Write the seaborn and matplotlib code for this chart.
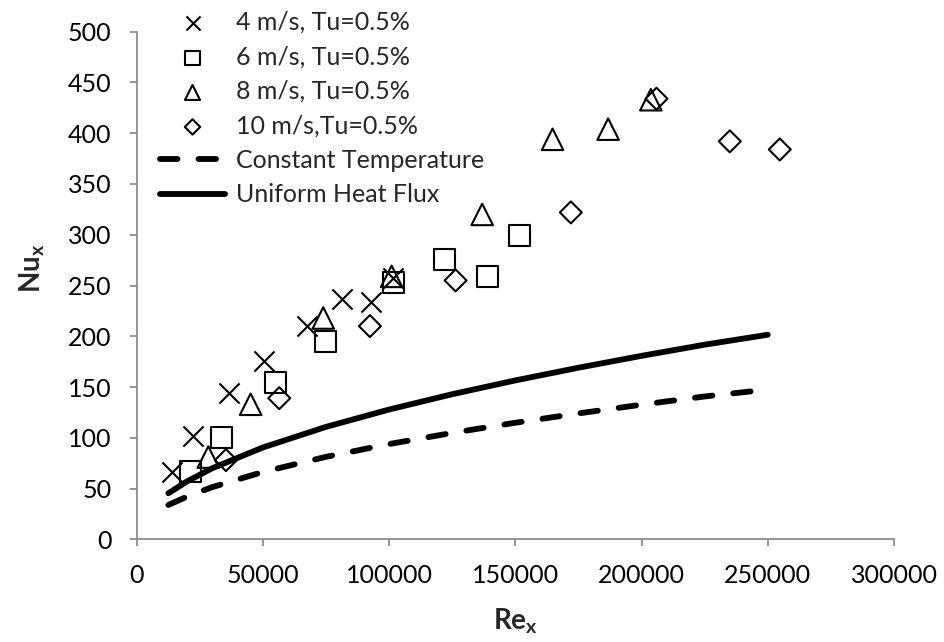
import matplotlib
matplotlib.use("Agg")
import matplotlib.pyplot as plt
import seaborn as sns
import pandas as pd

sns.set_theme(style="white")
plt.rcParams['font.family'] = ['Lato', 'DejaVu Sans']
plt.rcParams['mathtext.fontset'] = 'custom'
plt.rcParams['mathtext.bf'] = 'Lato:bold'
plt.rcParams['mathtext.rm'] = 'Lato'

# Experimental data
re_4 = [13935, 22490, 36750, 50480, 67380, 81480, 92720, 101670]
nu_4 = [66.6, 101.8, 143.8, 176, 210, 237, 234, 257]
re_6 = [21450, 33730, 55230, 75020, 101940, 122130, 139030, 151830]
nu_6 = [67, 100, 154, 195, 253, 276, 259, 299]
re_8 = [28430, 45200, 73960, 101030, 136900, 164770, 186790, 203700]
nu_8 = [81, 133, 218, 259, 320, 394, 404, 433]
re_10 = [35430, 56540, 92440, 126370, 172020, 205940, 234970, 254760]
nu_10 = [78, 139, 210, 255, 322, 434, 392, 384]

# Correlation curves
re_line = [12600, 20000, 30000, 50000, 75000, 100000, 125000, 150000, 175000, 200000, 225000, 250000]
nu_ct = [33.8, 42, 51.4, 66.3, 81.2, 93.8, 104.8, 114.8, 124, 132.6, 140.7, 147.5]
nu_uhf = [45.3, 57, 70, 90.4, 110.7, 127.8, 142.9, 156.5, 169, 180.7, 191.7, 201.5]

labels = ["4 m/s, Tu=0.5%", "6 m/s, Tu=0.5%", "8 m/s, Tu=0.5%", "10 m/s,Tu=0.5%"]
xticks = [0, 50000, 100000, 150000, 200000, 250000, 300000]
yticks = [0, 50, 100, 150, 200, 250, 300, 350, 400, 450, 500]

W, H = 944, 642
fig = plt.figure(figsize=(W / 100, H / 100), dpi=100)
x0, x1, y0, y1 = 136.5, 894, 539.3, 31.7
ax = fig.add_axes([x0 / W, 1 - y0 / H, (x1 - x0) / W, (y0 - y1) / H])

series = [(re_4, nu_4, 'x'), (re_6, nu_6, 's'), (re_8, nu_8, '^'), (re_10, nu_10, 'D')]
sizes = {'x': 210, 's': 230, '^': 240, 'D': 125}
for (rx, ny, m), lab in zip(series, labels):
    df = pd.DataFrame({'Re': rx, 'Nu': ny})
    if m == 'x':
        sns.scatterplot(data=df, x='Re', y='Nu', marker=m, s=sizes[m], color='black',
                        linewidth=1.5, ax=ax, label=lab, zorder=3)
    else:
        sns.scatterplot(data=df, x='Re', y='Nu', marker=m, s=sizes[m], facecolor='none',
                        edgecolor='black', linewidth=1.5, ax=ax, label=lab, zorder=3)

dfl = pd.DataFrame({'Re': re_line, 'ct': nu_ct, 'uhf': nu_uhf})
sns.lineplot(data=dfl, x='Re', y='ct', color='black', linewidth=4.2, ax=ax,
             label='Constant Temperature', zorder=2)
ax.lines[-1].set_dashes([3.0, 3.6])
ax.lines[-1].set_dash_capstyle('round')
sns.lineplot(data=dfl, x='Re', y='uhf', color='black', linewidth=4.2, ax=ax,
             label='Uniform Heat Flux', zorder=2)
ax.lines[-1].set_solid_capstyle('round')

ax.set_xlim(0, 300000)
ax.set_ylim(0, 500)
ax.set_xticks(xticks)
ax.set_yticks(yticks)
ax.set_xticklabels([str(v) for v in xticks])
ax.set_yticklabels([str(v) for v in yticks])

for s in ['top', 'right']:
    ax.spines[s].set_visible(False)
for s in ['left', 'bottom']:
    ax.spines[s].set_color('#8c8c8c')
    ax.spines[s].set_linewidth(1.3)
ax.tick_params(axis='both', which='major', direction='out', length=5, width=1.3,
               color='#8c8c8c', labelsize=18, labelcolor='black',
               left=True, bottom=True)
ax.tick_params(axis='x', pad=13)
ax.tick_params(axis='y', pad=13)

ax.set_xlabel('')
ax.set_ylabel('')
fig.text((x0 + x1) / 2 / W, 1 - 621 / H, r'$\mathbf{Re_x}$', fontsize=20,
         ha='center', va='center')
fig.text(32 / W, 1 - 268 / H, r'$\mathbf{Nu_x}$', fontsize=20, rotation=90,
         ha='center', va='center')

handles, labs = ax.get_legend_handles_labels()
leg = ax.legend(handles, labs, loc='upper left', bbox_to_anchor=(145 / W, 1 + 4 / H),
                bbox_transform=fig.transFigure, frameon=False, fontsize=18,
                handlelength=2.6, handletextpad=0.45, labelspacing=0.46, borderpad=0.1,
                markerscale=0.7)

fig.savefig('out.png', dpi=100)
